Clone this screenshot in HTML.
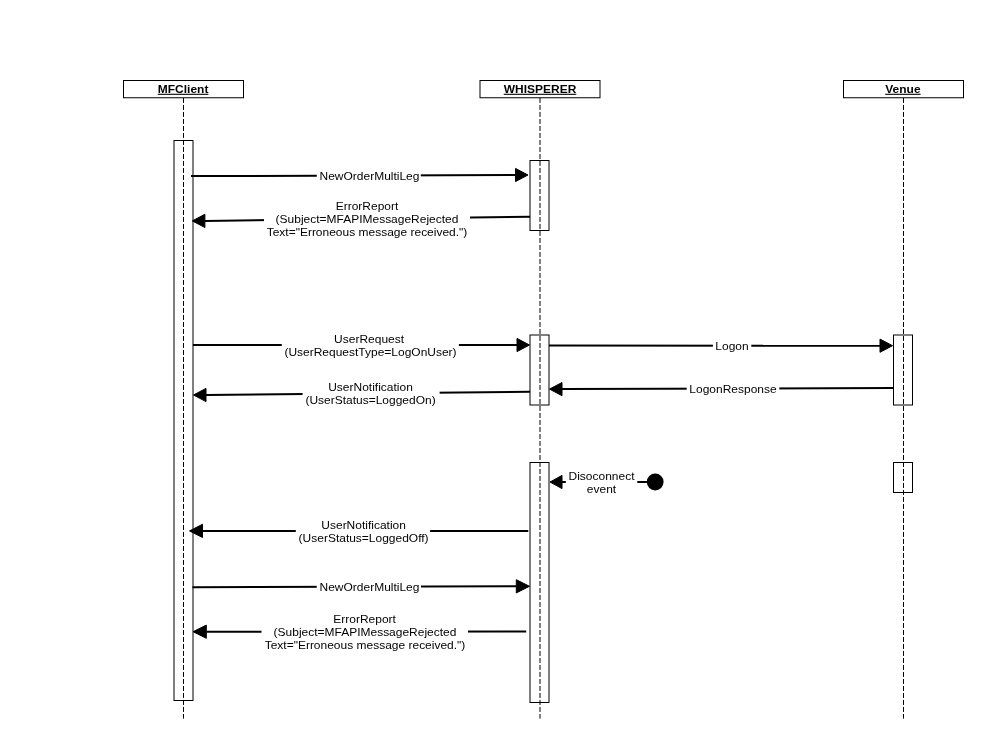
<!DOCTYPE html>
<html><head><meta charset="utf-8"><style>
html,body{margin:0;padding:0;background:#fff;}
svg{display:block;filter:grayscale(1);}
text{font-family:"Liberation Sans", sans-serif;font-size:11px;fill:#000;}
</style></head><body>
<svg width="985" height="740" viewBox="0 0 985 740">
<rect width="985" height="740" fill="#fff"/>
<rect x="123.5" y="80.5" width="120" height="17.25" fill="#fff" stroke="#000" stroke-width="1"/>
<text transform="translate(183.1 92.8) scale(1.09 1)" text-anchor="middle" font-weight="bold" text-decoration="underline">MFClient</text>
<rect x="480" y="80.5" width="120" height="17.25" fill="#fff" stroke="#000" stroke-width="1"/>
<text transform="translate(540 92.8) scale(1.09 1)" text-anchor="middle" font-weight="bold" text-decoration="underline">WHISPERER</text>
<rect x="843.5" y="80.5" width="120" height="17.25" fill="#fff" stroke="#000" stroke-width="1"/>
<text transform="translate(902.9 92.8) scale(1.09 1)" text-anchor="middle" font-weight="bold" text-decoration="underline">Venue</text>
<rect x="174" y="140.5" width="19" height="560" fill="#fff" stroke="#000" stroke-width="1"/>
<rect x="530" y="160.5" width="19" height="70" fill="#fff" stroke="#000" stroke-width="1"/>
<rect x="530" y="335" width="19" height="70" fill="#fff" stroke="#000" stroke-width="1"/>
<rect x="530" y="462.5" width="19" height="240" fill="#fff" stroke="#000" stroke-width="1"/>
<rect x="893.5" y="335" width="19" height="70" fill="#fff" stroke="#000" stroke-width="1"/>
<rect x="893.5" y="462.5" width="19" height="30" fill="#fff" stroke="#000" stroke-width="1"/>
<line x1="183.5" y1="97.95" x2="183.5" y2="718.6" stroke="#000" stroke-width="1" stroke-dasharray="5 2"/>
<line x1="540" y1="97.95" x2="540" y2="718.6" stroke="#000" stroke-width="1" stroke-dasharray="5 2"/>
<line x1="903.5" y1="97.95" x2="903.5" y2="718.6" stroke="#000" stroke-width="1" stroke-dasharray="5 2"/>
<line x1="191" y1="176.1" x2="515.5" y2="175" stroke="#000" stroke-width="2"/>
<path d="M515.5 168.4L528 175L515.5 181.6Z" fill="#000" stroke="#000" stroke-width="1" stroke-linejoin="miter"/>
<rect x="316.8" y="168" width="104.0" height="16" fill="#fff"/>
<text transform="translate(369.5 179.9) scale(1.09 1)" text-anchor="middle">NewOrderMultiLeg</text>
<line x1="530" y1="216.8" x2="204.9" y2="220.9" stroke="#000" stroke-width="2"/>
<path d="M204.9 214.3L192.3 220.9L204.9 227.5Z" fill="#000" stroke="#000" stroke-width="1" stroke-linejoin="miter"/>
<rect x="264" y="200" width="206" height="39" fill="#fff"/>
<text transform="translate(367 209.8) scale(1.09 1)" text-anchor="middle">ErrorReport</text>
<text transform="translate(367 222.8) scale(1.09 1)" text-anchor="middle">(Subject=MFAPIMessageRejected</text>
<text transform="translate(367 235.8) scale(1.09 1)" text-anchor="middle">Text=&quot;Erroneous message received.&quot;)</text>
<line x1="193" y1="345" x2="517" y2="345" stroke="#000" stroke-width="2"/>
<path d="M517 338.4L529.5 345L517 351.6Z" fill="#000" stroke="#000" stroke-width="1" stroke-linejoin="miter"/>
<rect x="281.8" y="332" width="177.09999999999997" height="27" fill="#fff"/>
<text transform="translate(369.1 343.1) scale(1.09 1)" text-anchor="middle">UserRequest</text>
<text transform="translate(370.5 355.7) scale(1.09 1)" text-anchor="middle">(UserRequestType=LogOnUser)</text>
<line x1="530" y1="391.8" x2="206" y2="395" stroke="#000" stroke-width="2"/>
<path d="M206 388.4L193.5 395L206 401.6Z" fill="#000" stroke="#000" stroke-width="1" stroke-linejoin="miter"/>
<rect x="302.6" y="380" width="137.0" height="27" fill="#fff"/>
<text transform="translate(370.5 390.8) scale(1.09 1)" text-anchor="middle">UserNotification</text>
<text transform="translate(370.5 403.7) scale(1.09 1)" text-anchor="middle">(UserStatus=LoggedOn)</text>
<line x1="549" y1="345.6" x2="880" y2="345.7" stroke="#000" stroke-width="2"/>
<path d="M880 339.09999999999997L892.5 345.7L880 352.3Z" fill="#000" stroke="#000" stroke-width="1" stroke-linejoin="miter"/>
<rect x="712.9" y="338" width="38.39999999999998" height="15" fill="#fff"/>
<text transform="translate(732 349.9) scale(1.09 1)" text-anchor="middle">Logon</text>
<line x1="893.5" y1="388" x2="562" y2="389.1" stroke="#000" stroke-width="2"/>
<path d="M562 382.5L549.5 389.1L562 395.70000000000005Z" fill="#000" stroke="#000" stroke-width="1" stroke-linejoin="miter"/>
<rect x="686.7" y="381" width="92.59999999999991" height="16" fill="#fff"/>
<text transform="translate(733 393) scale(1.09 1)" text-anchor="middle">LogonResponse</text>
<circle cx="655.2" cy="482" r="8.4" fill="#000"/>
<line x1="648" y1="482" x2="562" y2="482" stroke="#000" stroke-width="2"/>
<path d="M562 475.4L550 482L562 488.6Z" fill="#000" stroke="#000" stroke-width="1" stroke-linejoin="miter"/>
<rect x="565.8" y="469" width="71.5" height="27" fill="#fff"/>
<text transform="translate(601.5 479.7) scale(1.09 1)" text-anchor="middle">Disoconnect</text>
<text transform="translate(601.5 492.6) scale(1.09 1)" text-anchor="middle">event</text>
<line x1="528.3" y1="531.1" x2="202.5" y2="530.9" stroke="#000" stroke-width="2"/>
<path d="M202.5 524.3L189.5 530.9L202.5 537.5Z" fill="#000" stroke="#000" stroke-width="1" stroke-linejoin="miter"/>
<rect x="295.8" y="518" width="134.3" height="27" fill="#fff"/>
<text transform="translate(363.6 529.4) scale(1.09 1)" text-anchor="middle">UserNotification</text>
<text transform="translate(363.6 542.1) scale(1.09 1)" text-anchor="middle">(UserStatus=LoggedOff)</text>
<line x1="192.4" y1="587.2" x2="516.3" y2="586.3" stroke="#000" stroke-width="2"/>
<path d="M516.3 579.6999999999999L529.5 586.3L516.3 592.9Z" fill="#000" stroke="#000" stroke-width="1" stroke-linejoin="miter"/>
<rect x="316.7" y="579" width="104.30000000000001" height="16" fill="#fff"/>
<text transform="translate(369.5 590.6) scale(1.09 1)" text-anchor="middle">NewOrderMultiLeg</text>
<line x1="526.2" y1="631.4" x2="206.3" y2="631.7" stroke="#000" stroke-width="2"/>
<path d="M206.3 625.1L193.1 631.7L206.3 638.3000000000001Z" fill="#000" stroke="#000" stroke-width="1" stroke-linejoin="miter"/>
<rect x="261.5" y="613" width="206.5" height="39" fill="#fff"/>
<text transform="translate(364.6 622.8) scale(1.09 1)" text-anchor="middle">ErrorReport</text>
<text transform="translate(365 635.8) scale(1.09 1)" text-anchor="middle">(Subject=MFAPIMessageRejected</text>
<text transform="translate(365 648.7) scale(1.09 1)" text-anchor="middle">Text=&quot;Erroneous message received.&quot;)</text>
</svg>
</body></html>
